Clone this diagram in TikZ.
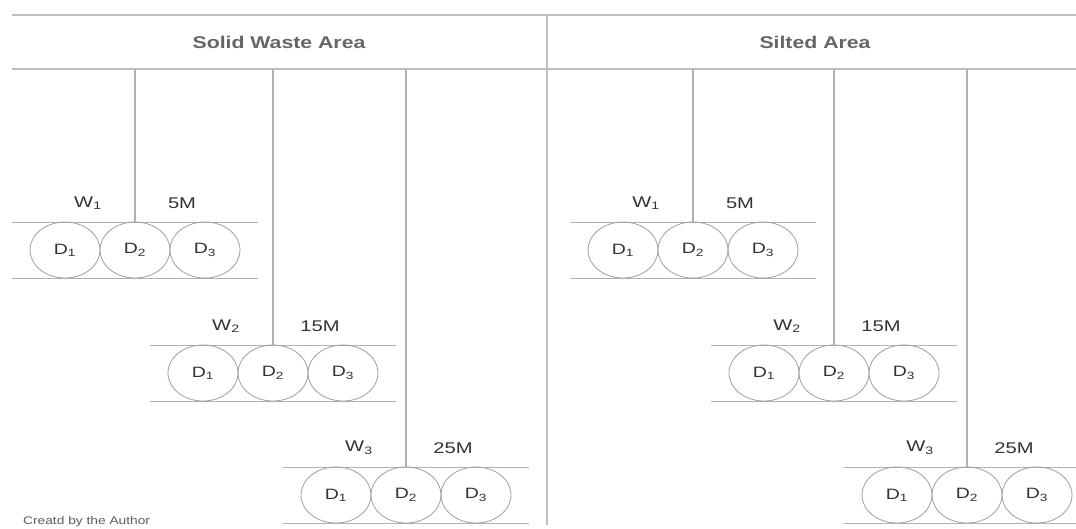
\documentclass[tikz,border=0pt]{standalone}
\usepackage{fontspec}
\setmainfont{Liberation Sans}
\usetikzlibrary{shapes.geometric}
\definecolor{headgray}{HTML}{BEBEBE}
\definecolor{linegray}{HTML}{B2B2B2}
\definecolor{circgray}{HTML}{A0A0A0}
\definecolor{txtgray}{HTML}{333333}
\definecolor{titlegray}{HTML}{666666}
\newcommand\sx[1]{\scalebox{1.3}[1]{#1}}
\newcommand\sxt[1]{\scalebox{1.25}[1]{#1}}
\newcommand\mkgroup[5]{%
  \coordinate (#1top) at (#2,69);
  \coordinate (#1j) at (#2,#3);
  \coordinate (#1L) at (#2-123,#3);
  \coordinate (#1R) at (#2+123,#3);
  \coordinate (#1BL) at (#2-123,#3+56);
  \coordinate (#1BR) at (#2+123,#3+56);
  \draw[vline] (#1top) -- (#1j);
  \draw[hline] (#1L) -- (#1R);
  \draw[hline] (#1BL) -- (#1BR);
  \node[lab] (#1w) at (#2-47,#3-19) {\sx{W\textsubscript{#4}}};
  \node[lab] (#1m) at (#2+47,#3-19) {\sx{#5}};
  \node[disk] (#1d1) at (#2-70,#3+28) {\sx{D\textsubscript{1}}};
  \node[disk] (#1d2) at (#2,#3+28) {\sx{D\textsubscript{2}}};
  \node[disk] (#1d3) at (#2+70,#3+28) {\sx{D\textsubscript{3}}};
}
\begin{document}
\begin{tikzpicture}[x=1pt,y=-1pt,
  headline/.style={draw=headgray,line width=1.6pt},
  vline/.style={draw=linegray,line width=1.1pt},
  hline/.style={draw=linegray,line width=1pt},
  disk/.style={ellipse,draw=circgray,line width=0.8pt,minimum width=70pt,minimum height=56pt,inner sep=0pt,text=txtgray,font=\fontsize{15}{17}\selectfont},
  lab/.style={inner sep=0pt,text=txtgray,font=\fontsize{15.5}{17}\selectfont},
  title/.style={inner sep=0pt,text=titlegray,font=\fontsize{17}{19}\selectfont\bfseries},
  foot/.style={inner sep=0pt,text=txtgray!80,font=\fontsize{11}{13}\selectfont,anchor=base west}]
\useasboundingbox (0,0) rectangle (1076,528);
\clip (0,0) rectangle (1076,528);
\fill[white] (0,0) rectangle (1076,528);
% header
\coordinate (h1L) at (12,15); \coordinate (h1R) at (1076,15);
\coordinate (h2L) at (12,69); \coordinate (h2R) at (1076,69);
\coordinate (divT) at (547,15); \coordinate (divB) at (547,525);
\draw[headline] (h1L) -- (h1R);
\draw[headline] (h2L) -- (h2R);
\draw[headline] (divT) -- (divB);
\node[title] (t1) at (279,42) {\sxt{Solid Waste Area}};
\node[title] (t2) at (815,42) {\sxt{Silted Area}};
% left panel
\mkgroup{a}{135}{222}{1}{5M}
\mkgroup{b}{273}{345}{2}{15M}
\mkgroup{c}{406}{467}{3}{25M}
% right panel
\mkgroup{e}{693}{222}{1}{5M}
\mkgroup{f}{834}{345}{2}{15M}
\mkgroup{g}{967}{467}{3}{25M}
\node[foot] (ft) at (23,524) {\sxt{Creatd by the Author}};
\end{tikzpicture}
\end{document}
